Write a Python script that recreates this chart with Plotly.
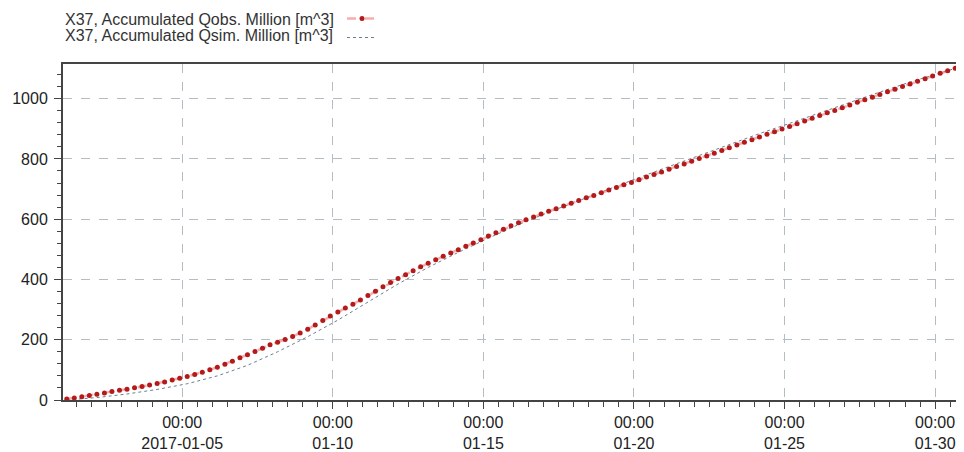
import pandas as pd
import plotly.graph_objects as go

# ---------------- data ----------------
obs_label = "X37, Accumulated Qobs. Million [m^3]"
sim_label = "X37, Accumulated Qsim. Million [m^3]"

# observed accumulated volume, 6-hourly
obs_times = pd.date_range("2017-01-01 04:00", periods=120, freq="6h")
obs_values = [
    3, 7, 11, 15, 19, 23, 28, 32, 36, 41, 45, 50,
    55, 60, 66, 72, 78, 85, 92, 100, 109, 119, 129, 140,
    150, 161, 172, 183, 192, 201, 211, 222, 235, 249, 264, 279,
    292, 305, 318, 332, 347, 361, 376, 390, 403, 416, 429, 442,
    454, 465, 477, 488, 499, 510, 521, 532, 544, 555, 567, 578,
    588, 598, 607, 617, 626, 635, 644, 653, 662, 671, 679, 688,
    697, 705, 714, 722, 731, 740, 748, 757, 766, 775, 783, 792,
    801, 810, 819, 828, 837, 846, 855, 864, 873, 882, 890, 899,
    908, 917, 926, 935, 944, 953, 961, 970, 979, 988, 996, 1005,
    1014, 1023, 1031, 1040, 1049, 1058, 1066, 1075, 1084, 1093, 1101, 1108,
]

# simulated accumulated volume, daily
sim_times = pd.date_range("2017-01-01 04:00", periods=30, freq="1D").append(
    pd.DatetimeIndex(["2017-01-30 22:00"]))
sim_values = [
    0, 8, 20, 35, 54, 80, 115, 160, 210, 265,
    325, 385, 440, 490, 537, 582, 623, 662, 700, 738,
    775, 812, 848, 884, 918, 953, 988, 1022, 1055, 1085, 1108,
]

x_tickvals = ["2017-01-05", "2017-01-10", "2017-01-15", "2017-01-20", "2017-01-25", "2017-01-30"]
x_ticktext = ["00:00<br>2017-01-05", "00:00<br>01-10", "00:00<br>01-15",
              "00:00<br>01-20", "00:00<br>01-25", "00:00<br>01-30"]
y_tickvals = [0, 200, 400, 600, 800, 1000]

# ---------------- figure ----------------
fig = go.Figure()
fig.add_trace(go.Scatter(
    x=sim_times, y=sim_values, mode="lines", name=" ",
    line=dict(color="#6a8090", width=1, dash="dot"),
    hovertemplate=sim_label + "<br>%{x}<br>%{y}<extra></extra>",
))
fig.add_trace(go.Scatter(
    x=obs_times, y=obs_values, mode="lines+markers", name=" ",
    line=dict(color="rgba(240,120,120,0.6)", width=2.5, dash="dash"),
    marker=dict(color="#b51a1a", size=5),
    hovertemplate=obs_label + "<br>%{x}<br>%{y}<extra></extra>",
))

axis_font = dict(family="Liberation Sans, Arial, sans-serif", size=16, color="#222222")
grid_col = "#b4bcc4"

# the page body has an 8px margin, so the figure is 8px smaller than the window
fig.update_layout(
    width=956, height=444, autosize=False,
    margin=dict(l=55, r=0, t=56, b=52, autoexpand=False),
    paper_bgcolor="white", plot_bgcolor="white",
    font=dict(family="Liberation Sans, Arial, sans-serif", color="#333333"),
    showlegend=True,
    legend=dict(
        x=(342 - 63) / 901, xanchor="left", y=(400 - 4) / 336, yanchor="top",
        bgcolor="rgba(0,0,0,0)", font=dict(size=10), traceorder="reversed",
        tracegroupgap=0, itemwidth=30,
    ),
    annotations=[
        dict(text=obs_label, xref="paper", yref="paper", x=0, y=(400 - 19.5) / 336,
             xanchor="left", yanchor="middle", showarrow=False,
             font=dict(size=16, color="#333333")),
        dict(text=sim_label, xref="paper", yref="paper", x=0, y=(400 - 35) / 336,
             xanchor="left", yanchor="middle", showarrow=False,
             font=dict(size=16, color="#333333")),
    ],
    xaxis=dict(
        type="date", automargin=False,
        range=["2017-01-01 01:00", "2017-01-30 23:00"],
        tickmode="array", tickvals=x_tickvals, ticktext=x_ticktext,
        ticks="outside", ticklen=7, tickwidth=1, tickcolor="#444444",
        tickfont=axis_font,
        showline=True, linecolor="#444444", linewidth=2, mirror=True,
        showgrid=True, gridcolor=grid_col, griddash="dash", gridwidth=1,
        zeroline=False,
        minor=dict(tickmode="linear", tick0="2017-01-01", dtick=43200000,
                   ticks="outside", ticklen=5, tickcolor="#444444", showgrid=False),
    ),
    yaxis=dict(
        range=[0, 1115], automargin=False,
        tickmode="array", tickvals=y_tickvals,
        ticks="outside", ticklen=7, tickwidth=1, tickcolor="#444444",
        tickfont=axis_font, ticklabelstandoff=3,
        showline=True, linecolor="#444444", linewidth=2,
        showgrid=True, gridcolor=grid_col, griddash="dash", gridwidth=1,
        zeroline=False,
        minor=dict(tickmode="linear", tick0=0, dtick=40,
                   ticks="outside", ticklen=4, tickcolor="#444444", showgrid=False),
    ),
)

fig.write_html("out.html")
